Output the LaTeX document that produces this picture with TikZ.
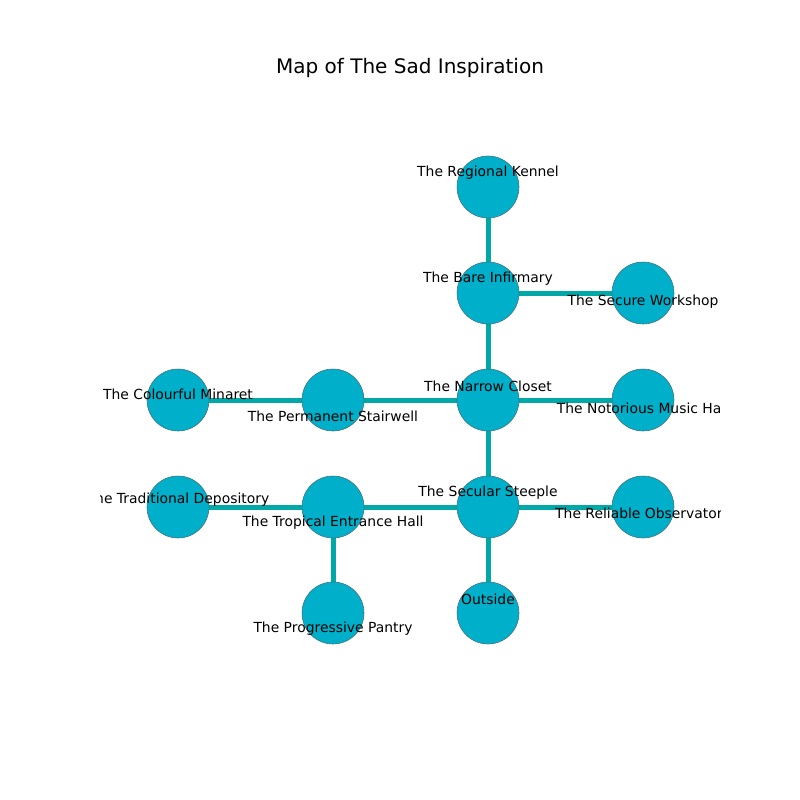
\documentclass[tikz,border=0pt]{standalone}
\usepackage{fontspec}
\setmainfont{DejaVu Sans}
\usetikzlibrary{backgrounds}
\definecolor{roomfill}{RGB}{0,176,202}
\definecolor{roomedge}{RGB}{70,110,120}
\definecolor{corridor}{RGB}{0,168,168}
\newlength{\px}
\setlength{\px}{0.72pt}
\tikzset{
  room/.style={circle, minimum size=62\px, inner sep=0pt, fill=roomfill, draw=roomedge, line width=0.4pt},
  corr/.style={draw=corridor, line width=3.6pt},
  lbl/.style={font=\fontsize{10}{12}\selectfont, text=black, inner sep=0pt},
}
\begin{document}
\begin{tikzpicture}[x=0.72pt, y=-0.72pt]
\useasboundingbox (0,0) rectangle (800,800);
\node[font=\fontsize{14.4}{17}\selectfont] (title) at (410,68) {Map of The Sad Inspiration};
% rooms
\node[room] (kennel) at (488,187) {};
\node[room] (infirm) at (488,293) {};
\node[room] (workshop) at (643,293) {};
\node[room] (closet) at (488,400) {};
\node[room] (music) at (643,400) {};
\node[room] (stair) at (333,400) {};
\node[room] (minaret) at (178,400) {};
\node[room] (steeple) at (488,507) {};
\node[room] (observ) at (643,507) {};
\node[room] (hall) at (333,507) {};
\node[room] (depos) at (178,507) {};
\node[room] (outside) at (488,613) {};
\node[room] (pantry) at (333,613) {};
% corridors, drawn beneath the rooms
\begin{scope}[on background layer]
\draw[corr] (kennel) -- (infirm);
\draw[corr] (infirm) -- (workshop);
\draw[corr] (infirm) -- (closet);
\draw[corr] (closet) -- (music);
\draw[corr] (closet) -- (stair);
\draw[corr] (stair) -- (minaret);
\draw[corr] (closet) -- (steeple);
\draw[corr] (steeple) -- (observ);
\draw[corr] (steeple) -- (hall);
\draw[corr] (hall) -- (depos);
\draw[corr] (hall) -- (pantry);
\draw[corr] (steeple) -- (outside);
\end{scope}
% room names, clipped to the plot area
\begin{scope}
\clip (100,96) rectangle (720,712);
\node[lbl] (tkennel) at (488,173) {The Regional Kennel};
\node[lbl] (tinfirm) at (488,279) {The Bare Infirmary};
\node[lbl] (tworkshop) at (643,302) {The Secure Workshop};
\node[lbl] (tcloset) at (488,386) {The Narrow Closet};
\node[lbl] (tmusic) at (643,408) {The Notorious Music Hall};
\node[lbl] (tstair) at (333,416) {The Permanent Stairwell};
\node[lbl] (tminaret) at (178,394) {The Colourful Minaret};
\node[lbl] (tsteeple) at (488,493) {The Secular Steeple};
\node[lbl] (tobserv) at (643,515) {The Reliable Observatory};
\node[lbl] (thall) at (333,523) {The Tropical Entrance Hall};
\node[lbl] (tdepos) at (178,500) {The Traditional Depository};
\node[lbl] (toutside) at (488,599) {Outside};
\node[lbl] (tpantry) at (333,629) {The Progressive Pantry};
\end{scope}
\end{tikzpicture}
\end{document}
